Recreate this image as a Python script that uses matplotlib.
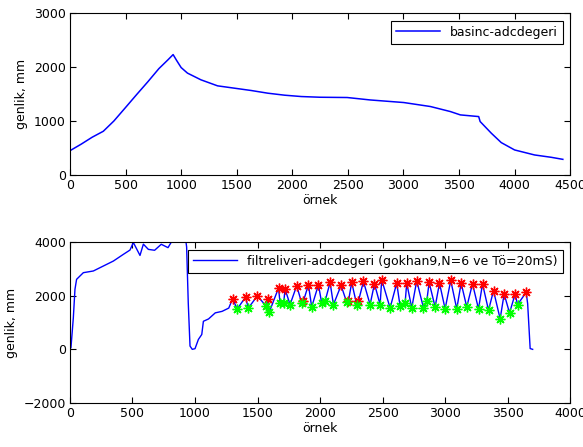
import matplotlib
matplotlib.use("Agg")
import matplotlib.pyplot as plt
import numpy as np

# top: basinc-adcdegeri (waypoints)
basinc_x = [0, 100, 200, 300, 395, 500, 600, 700, 800, 880, 928, 960, 1000,
            1057, 1178, 1328, 1479, 1630, 1780, 1931, 2081, 2250, 2494, 2700,
            3003, 3243, 3422, 3512, 3677, 3690, 3791, 3880, 4000, 4180, 4329, 4434]
basinc_y = [450, 570, 700, 810, 1000, 1250, 1490, 1725, 1970, 2130, 2230, 2120, 1990,
            1887, 1763, 1651, 1608, 1565, 1515, 1478, 1453, 1440, 1435, 1390,
            1342, 1268, 1175, 1113, 1082, 990, 773, 600, 464, 371, 328, 290]

# bottom: filtreliveri-adcdegeri, start of the series before the pulses
filt_start_x = [8, 27, 40, 53, 107, 187, 267, 347, 427, 480, 507, 560, 587, 627,
                677, 730, 784, 811, 850, 900, 925, 933, 946, 960, 978, 1000,
                1027, 1054, 1067, 1108, 1162, 1216, 1270]
filt_start_y = [63, 1180, 2236, 2609, 2857, 2920, 3105, 3290, 3540, 3700, 3980,
                3500, 3920, 3725, 3692, 3915, 3790, 4000, 4150, 4200, 4100, 3815,
                1729, 123, 0, 25, 369, 554, 1046, 1132, 1360, 1415, 1538]
filt_end_x = [3660, 3680, 3700]
filt_end_y = [1700, 30, 0]

# peaks (red) and valleys (green)
tepe_x = [1301, 1404, 1499, 1580, 1668, 1720, 1813, 1867, 1907, 1987, 2080, 2168,
          2227, 2253, 2307, 2347, 2435, 2493, 2613, 2693, 2773, 2872, 2955, 3045,
          3128, 3219, 3299, 3387, 3472, 3560, 3648]
tepe_y = [1889, 1945, 1994, 1871, 2289, 2247, 2370, 1800, 2407, 2407, 2494, 2383,
          1800, 2494, 1800, 2531, 2444, 2593, 2469, 2469, 2556, 2494, 2469, 2568,
          2469, 2444, 2444, 2185, 2062, 2062, 2123]
cukur_x = [1337, 1426, 1566, 1593, 1680, 1709, 1760, 1853, 1933, 2013, 2040, 2107,
           2213, 2293, 2400, 2480, 2560, 2640, 2680, 2733, 2827, 2853, 2920, 3000,
           3093, 3173, 3267, 3347, 3440, 3515, 3579]
cukur_y = [1502, 1538, 1625, 1378, 1729, 1723, 1667, 1729, 1580, 1729, 1790, 1667,
           1753, 1667, 1667, 1667, 1543, 1605, 1729, 1543, 1543, 1790, 1580, 1506,
           1506, 1580, 1506, 1457, 1136, 1358, 1667]

# line through the pulse part: zigzag through peaks and valleys
pulse = sorted(zip(tepe_x + cukur_x, tepe_y + cukur_y))
filt_x = filt_start_x + [p[0] for p in pulse] + filt_end_x
filt_y = filt_start_y + [p[1] for p in pulse] + filt_end_y

fig = plt.figure(figsize=(5.83, 4.47), dpi=100)
ax1 = fig.add_axes([0.120, 0.6085, 0.858, 0.3624])
ax2 = fig.add_axes([0.120, 0.0984, 0.858, 0.3602])

ax1.plot(basinc_x, basinc_y, color="#0000ff", lw=1.1, label="basinc-adcdegeri")
ax1.set_xlim(0, 4500)
ax1.set_ylim(0, 3000)
ax1.set_xticks(np.arange(0, 4501, 500))
ax1.set_yticks([0, 1000, 2000, 3000])

ax2.plot(filt_x, filt_y, color="#0000ff", lw=1.0,
         label="filtreliveri-adcdegeri (gokhan9,N=6 ve Tö=20mS)")
ax2.plot(tepe_x, tepe_y, ls="none", marker=(8, 2, 0), ms=7, mew=1.0, color="#ff0000")
ax2.plot(cukur_x, cukur_y, ls="none", marker=(8, 2, 0), ms=7, mew=1.0, color="#00ff00")
ax2.set_xlim(0, 4000)
ax2.set_ylim(-2000, 4000)
ax2.set_xticks(np.arange(0, 4001, 500))
ax2.set_yticks([-2000, 0, 2000, 4000])

for ax in (ax1, ax2):
    ax.tick_params(direction="in", top=True, right=True, length=4, labelsize=9, pad=3)
    ax.set_xlabel("örnek", fontsize=9, labelpad=1)
    ax.set_ylabel("genlik, mm", fontsize=9, labelpad=4)
    for s in ax.spines.values():
        s.set_linewidth(0.8)
    leg = ax.legend(loc="upper right", fontsize=9, fancybox=False, framealpha=1,
                    edgecolor="black", handlelength=3.5, borderaxespad=0.6)
    leg.get_frame().set_linewidth(0.8)

fig.savefig("out.png", dpi=100)
